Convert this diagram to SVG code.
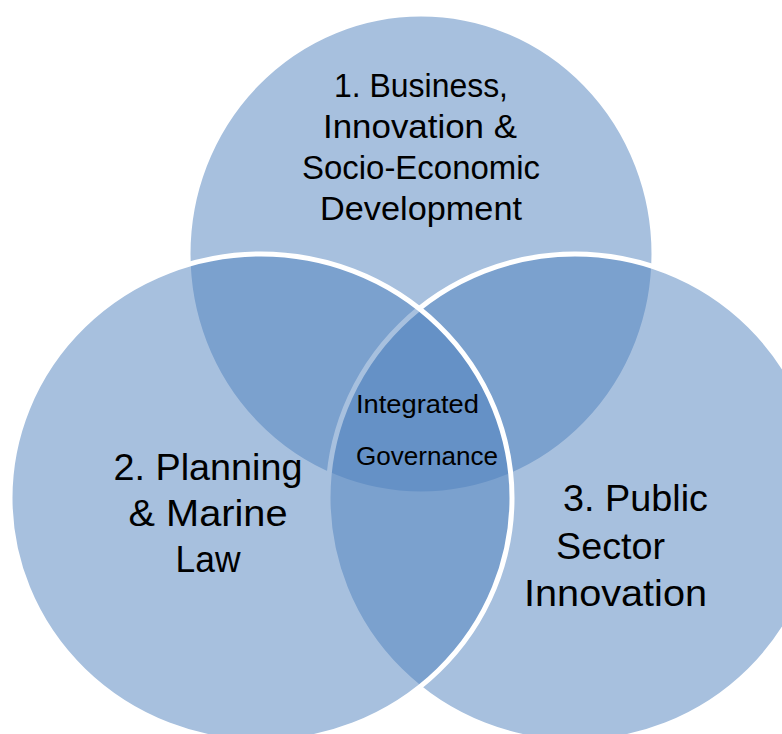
<svg xmlns="http://www.w3.org/2000/svg" width="782" height="734" viewBox="0 0 782 734">
  <style>
    .c { fill: #4F81BD; fill-opacity: 0.5; stroke: #FFFFFF; stroke-width: 5; }
    .t { font-family: "Liberation Sans", Arial, sans-serif; fill: #000000; }
    .top { font-size: 33px; text-anchor: middle; }
    .side { font-size: 37px; }
    .mid { font-size: 25px; }
  </style>
  <rect width="782" height="734" fill="#FFFFFF"/>
  <g id="node-business">
    <ellipse class="c" cx="421" cy="254" rx="233" ry="240"/>
    <text class="t top" x="421" y="97" textLength="174" lengthAdjust="spacingAndGlyphs">1. Business,</text>
    <text class="t top" x="420" y="138" textLength="194" lengthAdjust="spacingAndGlyphs">Innovation &amp;</text>
    <text class="t top" x="421" y="179" textLength="238" lengthAdjust="spacingAndGlyphs">Socio-Economic</text>
    <text class="t top" x="421" y="220" textLength="202" lengthAdjust="spacingAndGlyphs">Development</text>
  </g>
  <g id="node-public-sector">
    <ellipse class="c" cx="575" cy="498" rx="247" ry="244"/>
    <text class="t side" x="563" y="511" textLength="145" lengthAdjust="spacingAndGlyphs">3. Public</text>
    <text class="t side" x="556" y="559" textLength="109" lengthAdjust="spacingAndGlyphs">Sector</text>
    <text class="t side" x="524" y="606" textLength="183" lengthAdjust="spacingAndGlyphs">Innovation</text>
  </g>
  <g id="node-planning">
    <ellipse class="c" cx="261" cy="498" rx="251" ry="244"/>
    <text class="t side" x="208" y="480" text-anchor="middle" textLength="189" lengthAdjust="spacingAndGlyphs">2. Planning</text>
    <text class="t side" x="208" y="526" text-anchor="middle" textLength="159" lengthAdjust="spacingAndGlyphs">&amp; Marine</text>
    <text class="t side" x="208" y="572" text-anchor="middle" textLength="65" lengthAdjust="spacingAndGlyphs">Law</text>
  </g>
  <g id="node-integrated-governance">
    <text class="t mid" x="356" y="413" textLength="123" lengthAdjust="spacingAndGlyphs">Integrated</text>
    <text class="t mid" x="356" y="465" textLength="142" lengthAdjust="spacingAndGlyphs">Governance</text>
  </g>
  <g id="connectors"/>
</svg>
